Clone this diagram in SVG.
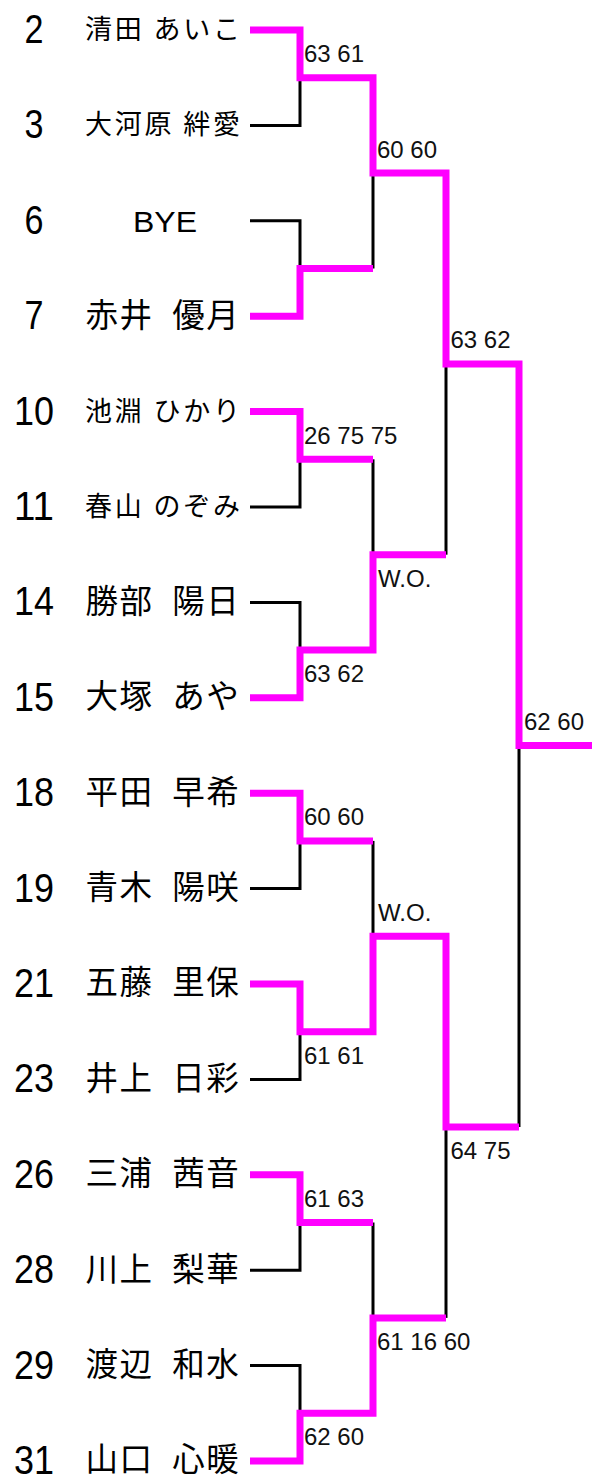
<svg xmlns="http://www.w3.org/2000/svg" width="597" height="1484" viewBox="0 0 597 1484">
<style>
.bg{fill:#ffffff}
.seed{font-family:"Liberation Sans",Arial,sans-serif;font-size:40px;fill:#000;text-anchor:middle}
.nm{font-family:"Noto Sans CJK JP","Noto Sans CJK SC",sans-serif;fill:#000}
.n4{font-size:32.5px;word-spacing:10px;letter-spacing:1.5px}
.n5{font-size:27px}
.bye{font-family:"Liberation Sans",Arial,sans-serif;font-size:29px;fill:#000;text-anchor:middle}
.sc{font-family:"Liberation Sans",Arial,sans-serif;font-size:24px;fill:#111}
.bk{fill:none;stroke:#000;stroke-width:3;stroke-linejoin:miter;stroke-linecap:butt}
.mg{fill:none;stroke:#ff00ff;stroke-width:7;stroke-linejoin:miter;stroke-linecap:butt}
</style>
<rect class="bg" x="0" y="0" width="597" height="1484"/>

<g id="connectors">
  <g id="losers">
    <path class="bk" d="M250,125.4 H300 V77.7"/>
    <path class="bk" d="M250,220.8 H300 V268.5"/>
    <path class="bk" d="M250,507 H300 V459.3"/>
    <path class="bk" d="M250,602.4 H300 V650.1"/>
    <path class="bk" d="M250,888.6 H300 V840.9"/>
    <path class="bk" d="M250,1079.4 H300 V1031.7"/>
    <path class="bk" d="M250,1270.2 H300 V1222.5"/>
    <path class="bk" d="M250,1365.6 H300 V1413.3"/>
    <path class="bk" d="M373,173.1 V268.5"/>
    <path class="bk" d="M373,459.3 V554.7"/>
    <path class="bk" d="M373,840.9 V936.3"/>
    <path class="bk" d="M373,1222.5 V1317.9"/>
    <path class="bk" d="M446,363.9 V554.7"/>
    <path class="bk" d="M446,1127.1 V1317.9"/>
    <path class="bk" d="M519,745.5 V1127.1"/>
  </g>
  <g id="winners">
    <path class="mg" d="M250,30 H300 V77.7 H373 V173.1 H446 V363.9 H519 V745.5 H592"/>
    <path class="mg" d="M250,316.2 H300 V268.5 H373"/>
    <path class="mg" d="M250,411.6 H300 V459.3 H373"/>
    <path class="mg" d="M250,697.8 H300 V650.1 H373 V554.7 H446"/>
    <path class="mg" d="M250,793.2 H300 V840.9 H373"/>
    <path class="mg" d="M250,984 H300 V1031.7 H373 V936.3 H446 V1127.1 H519"/>
    <path class="mg" d="M250,1174.8 H300 V1222.5 H373"/>
    <path class="mg" d="M250,1461 H300 V1413.3 H373 V1317.9 H446"/>
  </g>
</g>

<g id="scores">
  <text class="sc" x="304" y="62.2">63 61</text>
  <text class="sc" x="377" y="157.6">60 60</text>
  <text class="sc" x="450.5" y="348.4">63 62</text>
  <text class="sc" x="304" y="443.8">26 75 75</text>
  <text class="sc" x="304" y="682.1">63 62</text>
  <text class="sc" x="378" y="586.7">W.O.</text>
  <text class="sc" x="524" y="730">62 60</text>
  <text class="sc" x="304" y="825.4">60 60</text>
  <text class="sc" x="304" y="1063.7">61 61</text>
  <text class="sc" x="378" y="920.8">W.O.</text>
  <text class="sc" x="450.5" y="1159.1">64 75</text>
  <text class="sc" x="304" y="1207">61 63</text>
  <text class="sc" x="377" y="1349.9">61 16 60</text>
  <text class="sc" x="304" y="1445.3">62 60</text>
</g>

<g id="p2"><text class="seed" x="34" y="43" textLength="19" lengthAdjust="spacingAndGlyphs">2</text><text class="nm n5" x="85" y="39" textLength="155" lengthAdjust="spacing">清田 あいこ</text></g>
<g id="p3"><text class="seed" x="34" y="138.4" textLength="19" lengthAdjust="spacingAndGlyphs">3</text><text class="nm n5" x="85" y="134.4" textLength="155" lengthAdjust="spacing">大河原 絆愛</text></g>
<g id="p6"><text class="seed" x="34" y="233.8" textLength="19" lengthAdjust="spacingAndGlyphs">6</text><text class="bye" x="165" y="231.8" textLength="64" lengthAdjust="spacingAndGlyphs">BYE</text></g>
<g id="p7"><text class="seed" x="34" y="329.2" textLength="19" lengthAdjust="spacingAndGlyphs">7</text><text class="nm n4" x="85.5" y="326.5">赤井 優月</text></g>
<g id="p10"><text class="seed" x="34" y="424.6" textLength="40" lengthAdjust="spacingAndGlyphs">10</text><text class="nm n5" x="85" y="420.6" textLength="155" lengthAdjust="spacing">池淵 ひかり</text></g>
<g id="p11"><text class="seed" x="34" y="520" textLength="40" lengthAdjust="spacingAndGlyphs">11</text><text class="nm n5" x="85" y="516" textLength="155" lengthAdjust="spacing">春山 のぞみ</text></g>
<g id="p14"><text class="seed" x="34" y="615.4" textLength="40" lengthAdjust="spacingAndGlyphs">14</text><text class="nm n4" x="85.5" y="612.7">勝部 陽日</text></g>
<g id="p15"><text class="seed" x="34" y="710.8" textLength="40" lengthAdjust="spacingAndGlyphs">15</text><text class="nm n4" x="85.5" y="708.1">大塚 あや</text></g>
<g id="p18"><text class="seed" x="34" y="806.2" textLength="40" lengthAdjust="spacingAndGlyphs">18</text><text class="nm n4" x="85.5" y="803.5">平田 早希</text></g>
<g id="p19"><text class="seed" x="34" y="901.6" textLength="40" lengthAdjust="spacingAndGlyphs">19</text><text class="nm n4" x="85.5" y="898.9">青木 陽咲</text></g>
<g id="p21"><text class="seed" x="34" y="997" textLength="40" lengthAdjust="spacingAndGlyphs">21</text><text class="nm n4" x="85.5" y="994.3">五藤 里保</text></g>
<g id="p23"><text class="seed" x="34" y="1092.4" textLength="40" lengthAdjust="spacingAndGlyphs">23</text><text class="nm n4" x="85.5" y="1089.7">井上 日彩</text></g>
<g id="p26"><text class="seed" x="34" y="1187.8" textLength="40" lengthAdjust="spacingAndGlyphs">26</text><text class="nm n4" x="85.5" y="1185.1">三浦 茜音</text></g>
<g id="p28"><text class="seed" x="34" y="1283.2" textLength="40" lengthAdjust="spacingAndGlyphs">28</text><text class="nm n4" x="85.5" y="1280.5">川上 梨華</text></g>
<g id="p29"><text class="seed" x="34" y="1378.6" textLength="40" lengthAdjust="spacingAndGlyphs">29</text><text class="nm n4" x="85.5" y="1375.9">渡辺 和水</text></g>
<g id="p31"><text class="seed" x="34" y="1474" textLength="40" lengthAdjust="spacingAndGlyphs">31</text><text class="nm n4" x="85.5" y="1471.3">山口 心暖</text></g>
</svg>
